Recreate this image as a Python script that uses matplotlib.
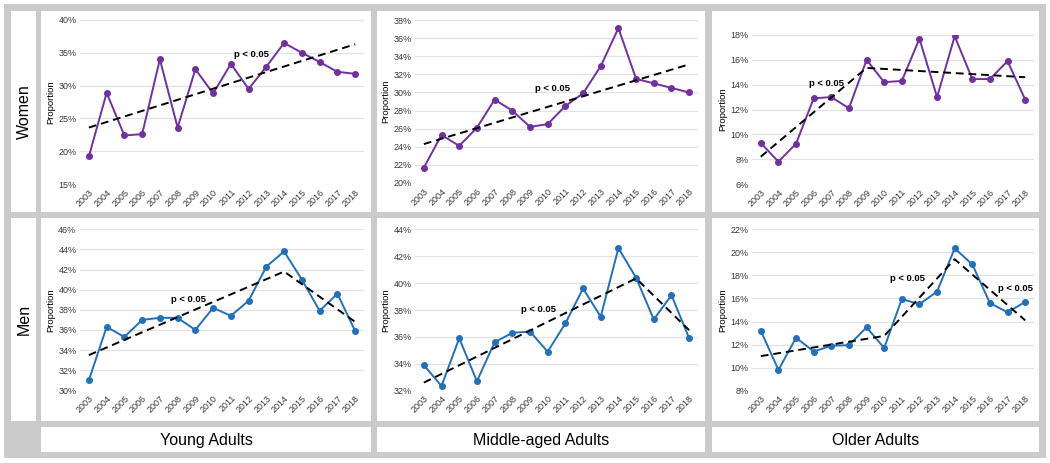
import numpy as np
import matplotlib
matplotlib.use("Agg")
import matplotlib.pyplot as plt
from matplotlib.patches import Rectangle
from matplotlib.ticker import FuncFormatter

plt.rcParams['font.family'] = ['Liberation Sans', 'DejaVu Sans']

years = [str(y) for y in range(2003, 2019)]

# proportions (%)
women_young = [19.2, 28.9, 22.4, 22.6, 34.0, 23.6, 32.5, 28.8, 33.3, 29.5, 32.9, 36.5, 35.0, 33.6, 32.1, 31.8]
women_middle = [21.7, 25.3, 24.1, 26.1, 29.2, 28.0, 26.2, 26.5, 28.5, 29.9, 32.9, 37.1, 31.5, 31.0, 30.5, 30.0]
women_older = [9.3, 7.8, 9.25, 12.9, 13.0, 12.1, 16.0, 14.2, 14.3, 17.7, 13.0, 17.9, 14.45, 14.45, 15.9, 12.8]
men_young = [31.0, 36.3, 35.3, 37.0, 37.2, 37.2, 36.0, 38.2, 37.4, 38.9, 42.3, 43.8, 41.0, 37.9, 39.6, 35.9]
men_middle = [33.9, 32.35, 35.9, 32.7, 35.6, 36.3, 36.4, 34.9, 37.0, 39.6, 37.5, 42.6, 40.4, 37.3, 39.1, 35.9]
men_older = [13.2, 9.8, 12.6, 11.4, 11.9, 11.95, 13.5, 11.7, 15.95, 15.5, 16.6, 20.35, 18.95, 15.6, 14.8, 15.7]

# joinpoint trend lines: (year index, value)
trend_wy = ([0, 15], [23.6, 36.3])
trend_wm = ([0, 15], [24.3, 33.1])
trend_wo = ([0, 6, 15], [8.2, 15.35, 14.6])
trend_my = ([0, 11, 15], [33.5, 41.8, 36.8])
trend_mm = ([0, 12, 15], [32.6, 40.35, 36.5])
trend_mo = ([0, 7, 11, 15], [11.0, 12.75, 19.4, 14.1])

row_names = ['Women', 'Men']
col_names = ['Young Adults', 'Middle-aged Adults', 'Older Adults']

W, H = 1050, 463
fig = plt.figure(figsize=(W / 100, H / 100), dpi=100)
fig.patch.set_facecolor('white')


def box(x0, y0, x1, y1, color):
    fig.patches.append(Rectangle((x0 / W, 1 - y1 / H), (x1 - x0) / W, (y1 - y0) / H,
                                 transform=fig.transFigure, facecolor=color,
                                 edgecolor='none', zorder=-5))


gray = '#cbcbcb'
box(4, 4, 1046, 458, gray)
col_x = [(41, 371), (377, 705), (712, 1039)]
row_y = [(11, 212), (218, 421)]
for (y0, y1) in row_y:
    box(11, y0, 36, y1, 'white')
    for (x0, x1) in col_x:
        box(x0, y0, x1, y1, 'white')
for (x0, x1) in col_x:
    box(x0, 427, x1, 452, 'white')

for name, (y0, y1) in zip(row_names, row_y):
    fig.text(24 / W, 1 - (y0 + y1) / 2 / H, name, rotation=90, ha='center', va='center',
             fontsize=11.5, color='black')
for name, (x0, x1) in zip(col_names, col_x):
    fig.text((x0 + x1) / 2 / W, 1 - 445 / H, name, ha='center', va='baseline',
             fontsize=11.5, color='black')

purple = '#7030a0'
blue = '#2270ba'

panels = [
    # values, trend, color, ylim, step, axes px (left, right, top, bottom), labels
    (women_young, trend_wy, purple, (15, 40), 5, (80, 364, 20, 184), [(9.15, 34.8)]),
    (women_middle, trend_wm, purple, (20, 38), 2, (415, 698, 20, 183), [(7.3, 30.45)]),
    (women_older, trend_wo, purple, (6, 18), 2, (752, 1034, 35, 184), [(3.75, 14.1)]),
    (men_young, trend_my, blue, (30, 46), 2, (80, 364, 229.3, 390.3), [(5.6, 39.0)]),
    (men_middle, trend_mm, blue, (32, 44), 2, (415, 698, 229.3, 390.7), [(6.5, 38.05)]),
    (men_older, trend_mo, blue, (8, 22), 2, (752, 1034, 229.3, 390.7), [(8.3, 17.7), (14.45, 16.9)]),
]

x = np.arange(len(years))
for vals, trend, color, ylim, step, (l, r, t, b), labels in panels:
    ax = fig.add_axes([l / W, 1 - b / H, (r - l) / W, (b - t) / H])
    ax.set_facecolor('none')
    ax.set_xlim(-0.5, len(years) - 0.5)
    ax.set_ylim(*ylim)
    ax.set_yticks(np.arange(ylim[0], ylim[1] + 0.01, step))
    ax.yaxis.set_major_formatter(FuncFormatter(lambda v, p: '%d%%' % round(v)))
    ax.grid(axis='y', color='#e2e2e2', linewidth=0.9)
    ax.set_axisbelow(True)
    for s in ax.spines.values():
        s.set_visible(False)
    ax.tick_params(length=0, labelsize=6.5, labelcolor='#383838', pad=2.5)
    ax.set_xticks(x)
    ax.set_xticklabels(years, rotation=45, ha='right', rotation_mode='anchor')
    ax.plot(x, vals, color=color, lw=1.4, marker='o', ms=4, zorder=3)
    ax.plot(trend[0], trend[1], color='black', lw=1.4, ls=(0, (4, 2.5)), zorder=4)
    for (lx, ly) in labels:
        ax.text(lx, ly, 'p < 0.05', ha='center', va='center', fontsize=6.8,
                fontweight='bold', color='black', zorder=5)
    ax.set_ylabel('Proportion', fontsize=6.8, color='black', labelpad=2)

fig.savefig('out.png', dpi=100, facecolor='white')
